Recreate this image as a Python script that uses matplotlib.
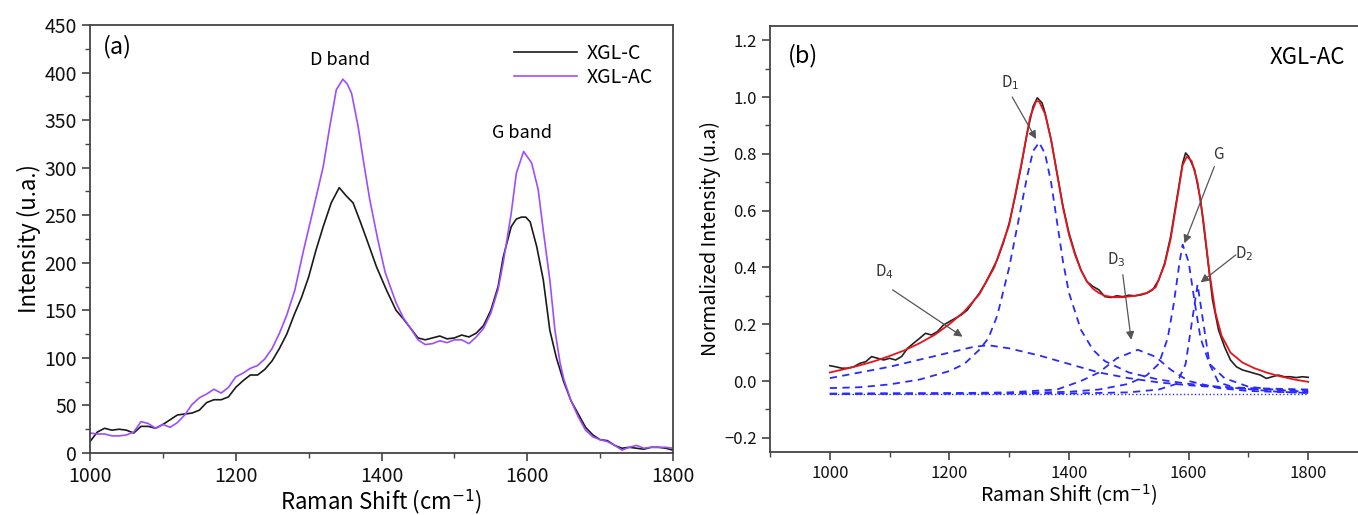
import numpy as np
import matplotlib
matplotlib.use("Agg")
import matplotlib.pyplot as plt
from matplotlib.ticker import MultipleLocator

plt.rcParams['font.family'] = ['Noto Sans CJK JP', 'DejaVu Sans']

# ---- panel (a): raw spectra ----
xa = [1000, 1010, 1020, 1030, 1040, 1050, 1060, 1070, 1080, 1090,
      1100, 1110, 1120, 1130, 1140, 1150, 1160, 1170, 1180, 1190,
      1200, 1210, 1220, 1230, 1240, 1250, 1260, 1270, 1280, 1290,
      1300, 1310, 1320, 1331, 1342, 1352, 1361, 1370, 1380, 1393, 1407,
      1420, 1430, 1440, 1450, 1460, 1470, 1480, 1490, 1500, 1510,
      1520, 1530, 1540, 1550, 1560, 1567, 1578, 1585, 1592, 1598,
      1604, 1613, 1622, 1631, 1640, 1650, 1660, 1670, 1680, 1690,
      1700, 1710, 1720, 1730, 1740, 1750, 1760, 1770, 1780, 1790, 1800]
xgl_c = [12, 22, 26, 24, 25, 24, 21, 28, 28, 26,
         30, 35, 40, 41, 42, 45, 53, 56, 56, 59,
         69, 76, 82, 82, 88, 97, 110, 125, 145, 163,
         185, 213, 238, 263, 279, 270, 263, 245, 224, 196, 171,
         150, 141, 131, 121, 119, 121, 123, 120, 121, 124,
         122, 126, 134, 150, 175, 206, 238, 246, 248, 248,
         243, 217, 182, 129, 100, 75, 55, 41, 27, 19,
         14, 13, 8, 5, 6, 5, 4, 6, 6, 5, 3]

xa2 = [1000, 1010, 1020, 1030, 1040, 1050, 1060, 1070, 1080, 1090,
       1100, 1110, 1120, 1130, 1140, 1150, 1160, 1170, 1180, 1190,
       1200, 1210, 1220, 1230, 1240, 1250, 1260, 1270, 1281, 1293,
       1306, 1320, 1329, 1338, 1347, 1353, 1359, 1368, 1375, 1384,
       1395, 1405, 1412, 1420, 1430, 1440, 1450, 1460, 1470, 1480,
       1490, 1500, 1510, 1520, 1530, 1540, 1550, 1560, 1567, 1578,
       1585, 1595, 1606, 1615, 1622, 1631, 1638, 1645, 1650, 1660,
       1670, 1680, 1690, 1700, 1710, 1720, 1730, 1740, 1750, 1760,
       1770, 1780, 1790, 1800]
xgl_ac = [21, 20, 20, 18, 18, 19, 22, 33, 31, 26,
          30, 27, 32, 40, 51, 58, 62, 67, 63, 69,
          80, 84, 89, 92, 99, 110, 126, 145, 171, 213,
          255, 301, 343, 382, 393, 388, 378, 343, 308, 266,
          224, 190, 175, 158, 142, 131, 119, 114, 115, 118,
          116, 119, 119, 115, 122, 131, 147, 172, 200, 252,
          294, 317, 305, 277, 234, 182, 129, 95, 78, 55,
          38, 24, 17, 14, 12, 8, 3, 6, 8, 5,
          6, 6, 6, 5]

# ---- panel (b): normalized spectrum and fit ----
xb = [1000, 1010, 1020, 1030, 1040, 1050, 1060, 1070, 1080, 1090,
      1100, 1110, 1120, 1130, 1140, 1150, 1160, 1170, 1180, 1190,
      1200, 1210, 1220, 1230, 1240, 1250, 1260, 1270, 1280, 1290,
      1300, 1310, 1320, 1330, 1340, 1347, 1355, 1360, 1370, 1380,
      1390, 1400, 1410, 1420, 1430, 1440, 1450, 1460, 1470, 1480,
      1490, 1500, 1510, 1520, 1530, 1540, 1550, 1560, 1570, 1580,
      1590, 1595, 1600, 1610, 1620, 1630, 1640, 1650, 1660, 1670,
      1680, 1690, 1700, 1710, 1720, 1730, 1740, 1750, 1760, 1770,
      1780, 1790, 1800]
exp_b = [0.054, 0.050, 0.045, 0.045, 0.050, 0.062, 0.068, 0.086, 0.080, 0.074,
         0.080, 0.074, 0.086, 0.115, 0.133, 0.150, 0.168, 0.162, 0.174, 0.197,
         0.209, 0.221, 0.233, 0.250, 0.280, 0.309, 0.344, 0.385, 0.427, 0.485,
         0.556, 0.650, 0.756, 0.873, 0.967, 0.997, 0.979, 0.944, 0.850, 0.732,
         0.615, 0.521, 0.450, 0.391, 0.350, 0.333, 0.321, 0.297, 0.294, 0.300,
         0.297, 0.302, 0.300, 0.303, 0.309, 0.321, 0.356, 0.415, 0.509, 0.638,
         0.767, 0.803, 0.791, 0.744, 0.638, 0.462, 0.286, 0.180, 0.121, 0.074,
         0.050, 0.039, 0.033, 0.027, 0.021, 0.009, 0.015, 0.021, 0.015, 0.015,
         0.012, 0.015, 0.013]

xfit = [1000, 1025, 1050, 1075, 1100, 1125, 1150, 1175, 1200, 1225,
        1250, 1275, 1300, 1320, 1335, 1345, 1350, 1360, 1370, 1380,
        1390, 1400, 1410, 1420, 1430, 1440, 1450, 1460, 1475, 1490,
        1510, 1530, 1545, 1560, 1570, 1580, 1590, 1597, 1605, 1615,
        1625, 1635, 1645, 1655, 1670, 1690, 1710, 1730, 1750, 1775, 1800]
fit = [0.030, 0.042, 0.055, 0.070, 0.088, 0.108, 0.133, 0.162, 0.200, 0.245,
       0.305, 0.400, 0.550, 0.760, 0.930, 0.985, 0.985, 0.940, 0.850, 0.730,
       0.610, 0.515, 0.445, 0.390, 0.350, 0.325, 0.310, 0.300, 0.295, 0.295,
       0.300, 0.310, 0.330, 0.410, 0.500, 0.630, 0.760, 0.790, 0.775, 0.700,
       0.560, 0.380, 0.240, 0.160, 0.100, 0.065, 0.045, 0.030, 0.018, 0.006, -0.003]

x_d1 = [1000, 1050, 1100, 1150, 1200, 1225, 1250, 1265, 1280, 1300, 1315, 1330, 1340,
        1350, 1360, 1370, 1380, 1390, 1400, 1420, 1440, 1460, 1500, 1550, 1600,
        1650, 1700, 1800]
d1 = [-0.025, -0.022, -0.012, 0.005, 0.035, 0.060, 0.110, 0.150, 0.230, 0.400, 0.560,
      0.720, 0.810, 0.840, 0.800, 0.700, 0.560, 0.420, 0.310, 0.180, 0.110, 0.070,
      0.030, 0.005, -0.010, -0.020, -0.025, -0.030]

x_d4 = [1000, 1050, 1100, 1150, 1200, 1240, 1265, 1300, 1350, 1400, 1450, 1500,
        1550, 1600, 1650, 1700, 1750, 1800]
d4 = [0.010, 0.030, 0.050, 0.075, 0.100, 0.120, 0.126, 0.115, 0.090, 0.060, 0.030,
      0.010, -0.005, -0.015, -0.022, -0.028, -0.032, -0.035]

x_d3 = [1000, 1200, 1300, 1380, 1420, 1450, 1480, 1515, 1545, 1570, 1600, 1650, 1700, 1800]
d3 = [-0.045, -0.043, -0.040, -0.030, 0.000, 0.030, 0.080, 0.110, 0.085, 0.040, 0.000,
      -0.025, -0.035, -0.042]

x_g = [1000, 1300, 1400, 1450, 1500, 1530, 1550, 1565, 1575, 1585, 1590, 1600, 1610,
       1620, 1635, 1660, 1700, 1750, 1800]
g = [-0.045, -0.043, -0.038, -0.030, -0.010, 0.020, 0.060, 0.150, 0.270, 0.420, 0.480,
     0.420, 0.280, 0.150, 0.060, 0.010, -0.020, -0.032, -0.038]

x_d2 = [1000, 1400, 1500, 1550, 1580, 1595, 1605, 1615, 1625, 1635, 1650, 1680, 1750, 1800]
d2 = [-0.045, -0.044, -0.040, -0.030, -0.010, 0.060, 0.200, 0.340, 0.200, 0.060,
      -0.005, -0.025, -0.038, -0.042]

base_x = [1000, 1800]
base_y = [-0.045, -0.045]

purple = '#9d4dff'
blue = '#2a2aff'
spine_c = '#444444'

fig = plt.figure(figsize=(13.58, 5.15), dpi=100)

# ---------------- (a) ----------------
ax1 = fig.add_axes([90/1358, 62/515, 583/1358, 428/515])
ax1.plot(xa, xgl_c, color='#1a1a1a', lw=1.2, label='XGL-C')
ax1.plot(xa2, xgl_ac, color=purple, lw=1.2, label='XGL-AC')
ax1.set_xlim(1000, 1800)
ax1.set_ylim(0, 450)
ax1.xaxis.set_major_locator(MultipleLocator(200))
ax1.xaxis.set_minor_locator(MultipleLocator(100))
ax1.yaxis.set_major_locator(MultipleLocator(50))
ax1.yaxis.set_minor_locator(MultipleLocator(25))
ax1.tick_params(which='both', direction='out', top=False, right=False,
                colors=spine_c, labelcolor='#111111')
ax1.tick_params(which='major', length=6, width=1.2, labelsize=14)
ax1.tick_params(which='minor', length=3.5, width=1.0)
for s in ax1.spines.values():
    s.set_color(spine_c)
    s.set_linewidth(1.3)
ax1.set_xlabel('Raman Shift (cm$^{-1}$)', fontsize=16, labelpad=0)
ax1.set_ylabel('Intensity (u.a.)', fontsize=16, labelpad=2)
ax1.text(0.022, 0.95, '(a)', transform=ax1.transAxes, fontsize=17, va='center')
ax1.text(1343, 413, 'D band', fontsize=13, ha='center', va='center')
ax1.text(1593, 336, 'G band', fontsize=13, ha='center', va='center')
ax1.legend(loc='upper right', frameon=False, fontsize=14, handlelength=3.2,
           handletextpad=0.5, labelspacing=0.15, bbox_to_anchor=(0.985, 0.985),
           borderaxespad=0.2)

# ---------------- (b) ----------------
ax2 = fig.add_axes([770/1358, 63/515, 598/1358, 426/515])
ax2.plot(base_x, base_y, color=blue, lw=1.0, ls=':')
for xx, yy in [(x_d4, d4), (x_d1, d1), (x_d3, d3), (x_g, g), (x_d2, d2)]:
    ax2.plot(xx, yy, color=blue, lw=1.3, ls=(0, (4, 3)))
ax2.plot(xb, exp_b, color='#222222', lw=1.2)
ax2.plot(xfit, fit, color='#e8141c', lw=1.3)
ax2.set_xlim(900, 1900)
ax2.set_ylim(-0.25, 1.25)
ax2.xaxis.set_major_locator(MultipleLocator(200))
ax2.xaxis.set_minor_locator(MultipleLocator(100))
ax2.set_xticks([1000, 1200, 1400, 1600, 1800])
ax2.yaxis.set_major_locator(MultipleLocator(0.2))
ax2.yaxis.set_minor_locator(MultipleLocator(0.1))
ax2.tick_params(which='both', direction='out', top=False, right=False,
                colors=spine_c, labelcolor='#111111')
ax2.tick_params(which='major', length=6, width=1.2, labelsize=12)
ax2.tick_params(which='minor', length=3.5, width=1.0)
for s in ax2.spines.values():
    s.set_color(spine_c)
    s.set_linewidth(1.3)
ax2.set_xlabel('Raman Shift (cm$^{-1}$)', fontsize=14, labelpad=0)
ax2.set_ylabel('Normalized Intensity (u.a)', fontsize=14, labelpad=2)
ax2.text(0.03, 0.93, '(b)', transform=ax2.transAxes, fontsize=17, va='center')
ax2.text(1862, 1.14, 'XGL-AC', fontsize=16, ha='right', va='center')

arrow = dict(arrowstyle='-|>', color='#555555', lw=0.9, mutation_scale=12,
             shrinkA=0, shrinkB=0)
ann = [('D$_1$', (1345, 0.852), (1301, 1.05), (1305, 1.0)),
       ('G', (1593, 0.485), (1649, 0.797), (1643, 0.755)),
       ('D$_2$', (1620, 0.347), (1693, 0.45), (1679, 0.444)),
       ('D$_3$', (1504, 0.145), (1479, 0.427), (1490, 0.374)),
       ('D$_4$', (1222, 0.156), (1091, 0.385), (1105, 0.321))]
for lab, tip, txt, tail in ann:
    ax2.text(txt[0], txt[1], lab, fontsize=11, ha='center', va='center', color='#333333')
    ax2.annotate('', xy=tip, xytext=tail, arrowprops=arrow)

fig.savefig('out.png', dpi=100)
